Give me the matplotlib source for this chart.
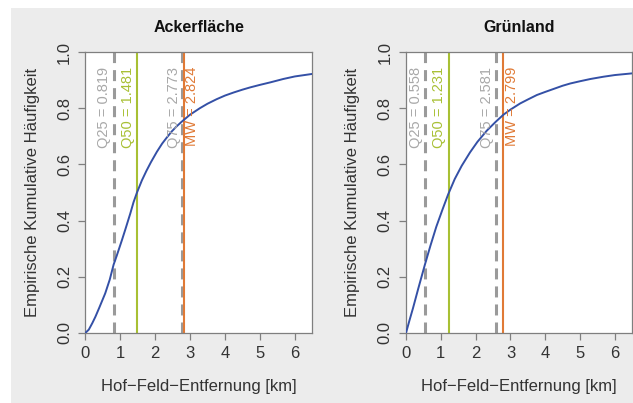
import matplotlib
matplotlib.use("Agg")
import matplotlib.pyplot as plt
from matplotlib.patches import Rectangle

plt.rcParams['font.family'] = ['Liberation Sans', 'DejaVu Sans']

# ---- data ----
titles = ["Ackerfläche", "Grünland"]

acker_x = [0.0, 0.1, 0.2, 0.29, 0.4, 0.57, 0.7, 0.81, 0.9, 1.05, 1.15, 1.29, 1.38, 1.48,
           1.62, 1.75, 1.88, 2.05, 2.2, 2.33, 2.48, 2.62, 2.77, 3.0, 3.28, 3.5, 3.76,
           4.0, 4.25, 4.5, 4.72, 5.0, 5.3, 5.67, 6.0, 6.5]
acker_y = [0.0, 0.012, 0.035, 0.058, 0.09, 0.141, 0.19, 0.243, 0.275, 0.331, 0.37, 0.426,
           0.465, 0.5, 0.543, 0.577, 0.608, 0.645, 0.674, 0.695, 0.718, 0.736, 0.753,
           0.777, 0.8, 0.816, 0.832, 0.845, 0.856, 0.866, 0.874, 0.883, 0.892, 0.904,
           0.913, 0.922]

gruen_x = [0.0, 0.1, 0.2, 0.35, 0.54, 0.7, 0.87, 1.05, 1.21, 1.4, 1.6, 1.84, 2.05, 2.32,
           2.58, 2.8, 3.0, 3.28, 3.5, 3.76, 4.0, 4.25, 4.5, 4.72, 5.0, 5.3, 5.67, 6.0, 6.5]
gruen_y = [0.0, 0.045, 0.088, 0.157, 0.242, 0.31, 0.378, 0.44, 0.493, 0.548, 0.595, 0.643,
           0.68, 0.72, 0.752, 0.777, 0.795, 0.817, 0.831, 0.847, 0.858, 0.869, 0.88,
           0.888, 0.896, 0.904, 0.912, 0.918, 0.924]

acker_stats = {"Q25": 0.819, "Q50": 1.481, "Q75": 2.773, "MW": 2.824}
gruen_stats = {"Q25": 0.558, "Q50": 1.231, "Q75": 2.581, "MW": 2.799}

x_ticks = [0, 1, 2, 3, 4, 5, 6]
y_ticks = [0.0, 0.2, 0.4, 0.6, 0.8, 1.0]
y_tick_labels = ["0.0", "0.2", "0.4", "0.6", "0.8", "1.0"]

xlabel = "Hof\u2212Feld\u2212Entfernung [km]"
ylabel = "Empirische Kumulative Häufigkeit"

# ---- styles ----
W, H = 633, 403
curve_col = "#3450A6"
gray_line = "#9A9A9A"
gray_text = "#A8A8A8"
green = "#A8C034"
orange = "#E07A36"
text_col = "#333333"
spine_col = "#7F7F7F"

fig = plt.figure(figsize=(W / 100, H / 100), dpi=100)
fig.patch.set_facecolor("white")
fig.patches.append(Rectangle((11 / W, 0), 1 - 11 / W, (H - 8) / H,
                             transform=fig.transFigure, facecolor="#ECECEC",
                             edgecolor="none", zorder=-10))

panels = [
    (85.3, 312.3, acker_x, acker_y, acker_stats),
    (406.0, 632.3, gruen_x, gruen_y, gruen_stats),
]

for i, (x0, x1, cx, cy, st) in enumerate(panels):
    ax = fig.add_axes([x0 / W, (H - 333) / H, (x1 - x0) / W, (333 - 52) / H])
    ax.set_facecolor("white")
    ax.set_xlim(0, 6.5)
    ax.set_ylim(0, 1)
    for s in ax.spines.values():
        s.set_color(spine_col)
        s.set_linewidth(0.9)
    ax.set_xticks(x_ticks)
    ax.set_yticks(y_ticks)
    ax.set_yticklabels(y_tick_labels)
    ax.tick_params(axis="both", direction="out", length=5, width=0.9,
                   color=spine_col, labelcolor=text_col, labelsize=12, pad=4)
    ax.tick_params(axis="y", labelrotation=90, pad=10)
    for lbl in ax.get_yticklabels():
        lbl.set_va("center")
        lbl.set_ha("center")

    # vertical lines
    ax.axvline(st["Q25"], color=gray_line, lw=2.2, dashes=(3.6, 2.3), zorder=2)
    ax.axvline(st["Q75"], color=gray_line, lw=2.2, dashes=(3.6, 2.3), zorder=2)
    ax.axvline(st["Q50"], color=green, lw=1.5, zorder=2)
    ax.axvline(st["MW"], color=orange, lw=1.5, zorder=2)

    # curve
    ax.plot(cx, cy, color=curve_col, lw=1.4, zorder=3, solid_joinstyle="round")

    # annotations
    dx = 9.5 / 34.9
    yt = 0.947
    ax.text(st["Q25"] - dx, yt, "Q25 = %.3f" % st["Q25"], rotation=90,
            ha="center", va="top", color=gray_text, fontsize=10.5, zorder=4)
    ax.text(st["Q50"] - dx, yt, "Q50 = %.3f" % st["Q50"], rotation=90,
            ha="center", va="top", color=green, fontsize=10.5, zorder=4)
    ax.text(st["Q75"] - dx * 0.9, yt, "Q75 = %.3f" % st["Q75"], rotation=90,
            ha="center", va="top", color=gray_text, fontsize=10.5, zorder=4)
    ax.text(st["MW"] + dx * 0.85, yt, "MW = %.3f" % st["MW"], rotation=90,
            ha="center", va="top", color=orange, fontsize=10.5, zorder=4)

    cxp = (x0 + x1) / 2
    fig.text(cxp / W, 1 - 28 / H, titles[i], ha="center", va="center",
             fontsize=11.5, fontweight="bold", color="#111111")
    fig.text(cxp / W, 1 - 386 / H, xlabel, ha="center", va="center",
             fontsize=12, color=text_col)
    fig.text((x0 - 53) / W, (H - 192) / H, ylabel, ha="center", va="center",
             rotation=90, fontsize=12, color=text_col)

fig.savefig("out.png", dpi=100, facecolor=fig.get_facecolor())
